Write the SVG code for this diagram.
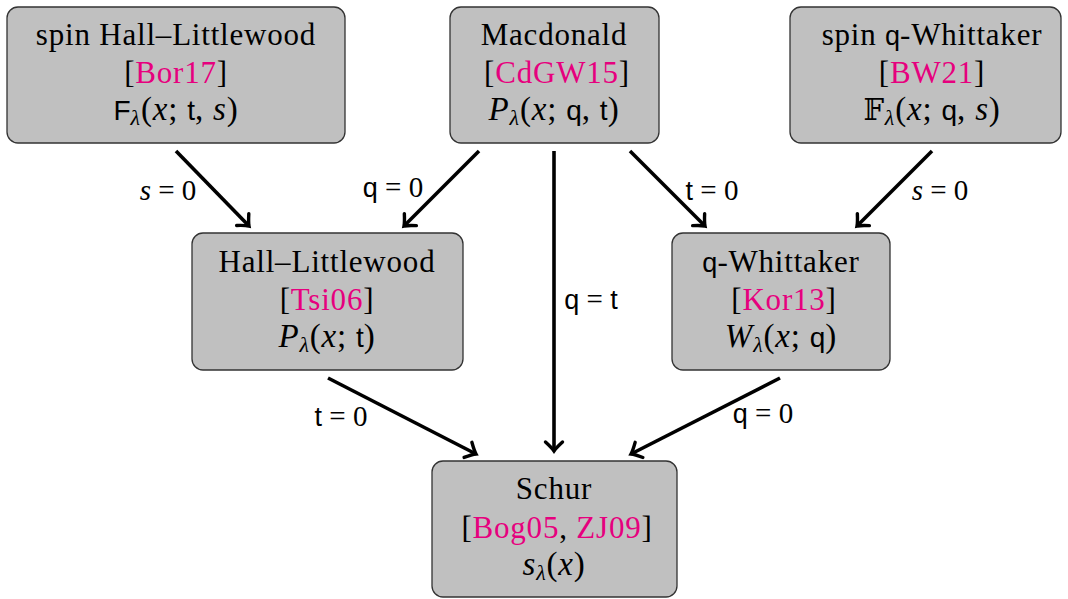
<svg xmlns="http://www.w3.org/2000/svg" width="1068" height="599" viewBox="0 0 1068 599">
<defs>
<style>
.box{fill:#c0c0c0;stroke:#333;stroke-width:1.3}
.t{font-family:"Liberation Serif","DejaVu Serif",serif;font-size:31px;letter-spacing:0.8px;fill:#000;text-anchor:middle}
.m{letter-spacing:0.8px;font-size:33px}
.sf{font-family:"Liberation Sans","DejaVu Sans",sans-serif;font-size:27px;letter-spacing:0}
.m .sf{font-size:28px}
.it{font-style:italic}
.cite{fill:#e6007e}
.sub{font-size:22px}
.lbl{font-family:"Liberation Serif","DejaVu Serif",serif;font-size:29px;fill:#000;text-anchor:middle}
.edge{stroke:#000;stroke-width:3.6;fill:none;marker-end:url(#ah)}
</style>
<marker id="ah" markerUnits="userSpaceOnUse" markerWidth="30" markerHeight="30" refX="0" refY="0" viewBox="-15 -15 30 30" orient="auto" overflow="visible">
<path d="M-9,-8.5 Q-3,-2 0,0 Q-3,2 -9,8.5" fill="none" stroke="#000" stroke-width="3.4" stroke-linecap="round"/>
</marker>
</defs>
<rect width="1068" height="599" fill="#fff"/>
<g id="connectors">
<line class="edge" x1="176" y1="151" x2="249" y2="226"/>
<line class="edge" x1="479" y1="151" x2="404" y2="226"/>
<line class="edge" x1="554" y1="151" x2="554" y2="451"/>
<line class="edge" x1="630" y1="151" x2="705" y2="226"/>
<line class="edge" x1="932" y1="151" x2="857" y2="226"/>
<line class="edge" x1="328" y1="378" x2="476" y2="454"/>
<line class="edge" x1="780" y1="378" x2="631" y2="454"/>
<text class="lbl" x="168" y="200"><tspan class="it">s</tspan> = 0</text>
<text class="lbl" x="393" y="197"><tspan class="sf">q</tspan> = 0</text>
<text class="lbl" x="591" y="309"><tspan class="sf">q</tspan> = <tspan class="sf">t</tspan></text>
<text class="lbl" x="712" y="200"><tspan class="sf">t</tspan> = 0</text>
<text class="lbl" x="940" y="200"><tspan class="it">s</tspan> = 0</text>
<text class="lbl" x="341" y="426"><tspan class="sf">t</tspan> = 0</text>
<text class="lbl" x="763" y="423"><tspan class="sf">q</tspan> = 0</text>
</g>
<g id="spinHL">
<rect class="box" x="7" y="7" width="338" height="136" rx="11"/>
<text class="t" x="176" y="45">spin Hall–Littlewood</text>
<text class="t" x="176" y="83">[<tspan class="cite">Bor17</tspan>]</text>
<text class="t m" x="176" y="120"><tspan class="sf">F</tspan><tspan class="it sub" dy="5">λ</tspan><tspan dy="-5">(</tspan><tspan class="it">x</tspan>; <tspan class="sf">t</tspan>, <tspan class="it">s</tspan>)</text>
</g>
<g id="macdonald">
<rect class="box" x="450" y="7" width="209" height="136" rx="11"/>
<text class="t" x="554" y="45">Macdonald</text>
<text class="t" x="557" y="83">[<tspan class="cite">CdGW15</tspan>]</text>
<text class="t m" x="554" y="120"><tspan class="it">P</tspan><tspan class="it sub" dy="5">λ</tspan><tspan dy="-5">(</tspan><tspan class="it">x</tspan>; <tspan class="sf">q</tspan>, <tspan class="sf">t</tspan>)</text>
</g>
<g id="spinQW">
<rect class="box" x="790" y="7" width="271" height="136" rx="11"/>
<text class="t" x="932" y="45">spin <tspan class="sf">q</tspan>-Whittaker</text>
<text class="t" x="932" y="83">[<tspan class="cite">BW21</tspan>]</text>
<text class="t m" x="932" y="120"><tspan font-family="DejaVu Serif,DejaVu Sans,serif" font-size="29">𝔽</tspan><tspan class="it sub" dy="5">λ</tspan><tspan dy="-5">(</tspan><tspan class="it">x</tspan>; <tspan class="sf">q</tspan>, <tspan class="it">s</tspan>)</text>
</g>
<g id="hallLittlewood">
<rect class="box" x="192" y="233" width="271" height="137" rx="11"/>
<text class="t" x="327" y="272">Hall–Littlewood</text>
<text class="t" x="327" y="310">[<tspan class="cite">Tsi06</tspan>]</text>
<text class="t m" x="327" y="347"><tspan class="it">P</tspan><tspan class="it sub" dy="5">λ</tspan><tspan dy="-5">(</tspan><tspan class="it">x</tspan>; <tspan class="sf">t</tspan>)</text>
</g>
<g id="qWhittaker">
<rect class="box" x="672" y="233" width="218" height="137" rx="11"/>
<text class="t" x="781" y="272"><tspan class="sf">q</tspan>-Whittaker</text>
<text class="t" x="784" y="310">[<tspan class="cite">Kor13</tspan>]</text>
<text class="t m" x="781" y="347"><tspan class="it">W</tspan><tspan class="it sub" dy="5">λ</tspan><tspan dy="-5">(</tspan><tspan class="it">x</tspan>; <tspan class="sf">q</tspan>)</text>
</g>
<g id="schur">
<rect class="box" x="432" y="461" width="245" height="136" rx="11"/>
<text class="t" x="554" y="499">Schur</text>
<text class="t" x="557" y="538">[<tspan class="cite">Bog05</tspan>, <tspan class="cite">ZJ09</tspan>]</text>
<text class="t m" x="554" y="575"><tspan class="it">s</tspan><tspan class="it sub" dy="5">λ</tspan><tspan dy="-5">(</tspan><tspan class="it">x</tspan>)</text>
</g>
</svg>
